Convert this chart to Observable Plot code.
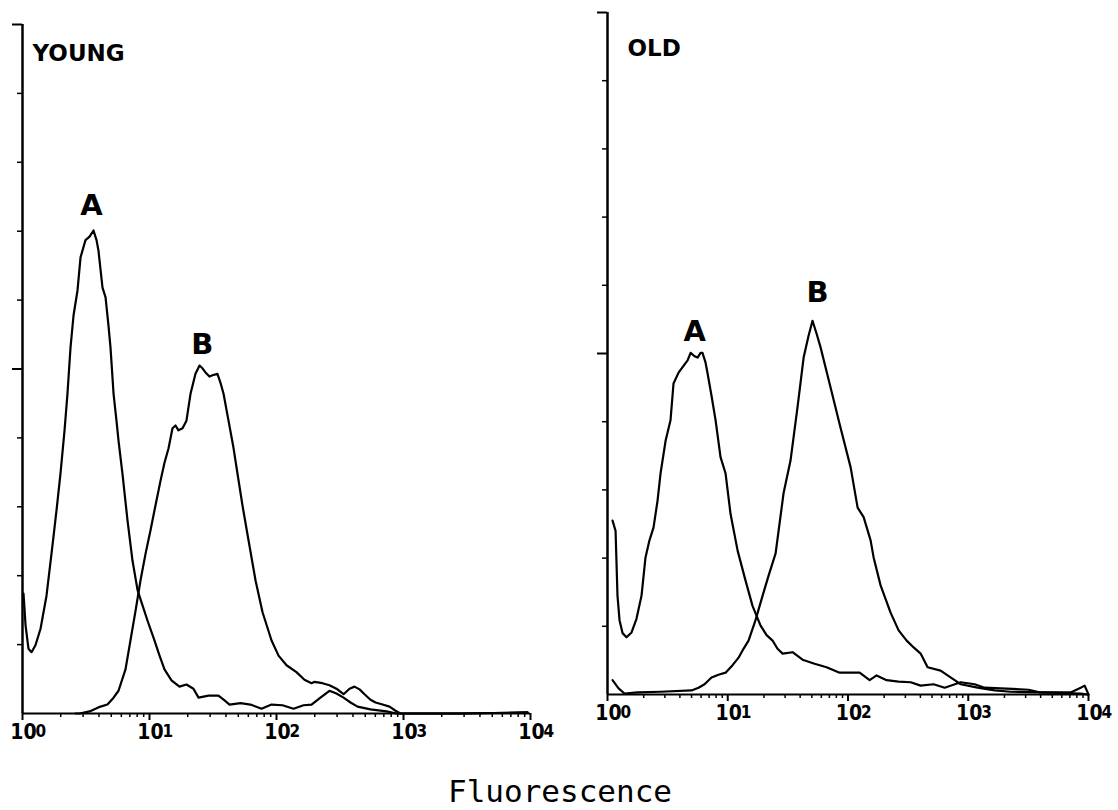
<!DOCTYPE html>
<html>
<head>
<meta charset="utf-8">
<script src="https://cdn.jsdelivr.net/npm/d3@7"></script>
<script src="https://cdn.jsdelivr.net/npm/@observablehq/plot@0.6"></script>
<style>
  html, body { margin: 0; padding: 0; background: #fff; }
  #wrap { position: relative; width: 1118px; height: 810px; background: #fff; overflow: hidden; }
  #left { position: absolute; left: 0; top: 0; }
  #right { position: absolute; left: 580px; top: 0; }
  #xlabel { position: absolute; left: 0; width: 1120px; top: 776px; text-align: center;
    font-family: "DejaVu Sans Mono", monospace; font-size: 31px; line-height: 31px; color: #000; }
</style>
</head>
<body>
<div id="wrap">
  <div id="left"></div>
  <div id="right"></div>
  <div id="xlabel">Fluorescence</div>
</div>
<script>
// ---- Data (x in log10 decades of fluorescence, y = relative cell count, 0..100) ----
const youngA_logF = [0.008,0.024,0.047,0.071,0.102,0.142,0.189,0.236,0.268,0.299,0.331,0.354,0.378,0.402,0.433,0.457,0.496,0.528,0.559,0.583,0.598,0.630,0.654,0.677,0.693,0.717,0.740,0.756,0.787,0.827,0.866,0.906,0.945,0.984,1.039,1.079,1.118,1.173,1.236,1.291,1.346,1.386,1.465,1.543,1.591,1.630,1.717,1.795,1.882,1.961,2.047,2.134,2.213,2.276,2.346,2.417,2.472,2.528,2.583,2.638,2.740,2.866,2.945,3.449,3.976];
const youngA_count = [17.4,12.8,9.4,8.9,9.9,12.3,17.1,24.4,29.5,34.8,41.1,46.4,53.1,57.8,61.4,66.2,68.7,69.2,70.1,68.7,67.2,61.8,60.4,56.3,53.1,46.4,42.5,39.6,34.8,28.0,22.2,17.9,15.7,13.5,10.6,8.4,6.4,4.8,3.9,4.2,3.6,2.3,2.6,2.6,1.9,1.3,1.5,1.3,0.7,1.3,1.2,0.7,1.2,1.3,2.3,3.3,2.9,2.3,1.6,1.0,0.6,0.3,0,0,0.15];

const youngB_logF = [0.417,0.449,0.528,0.614,0.669,0.717,0.756,0.811,0.850,0.890,0.929,0.969,1.008,1.047,1.087,1.118,1.150,1.181,1.205,1.228,1.260,1.291,1.323,1.362,1.394,1.417,1.441,1.472,1.496,1.535,1.559,1.583,1.622,1.661,1.693,1.732,1.780,1.835,1.890,1.961,2.016,2.079,2.157,2.220,2.276,2.299,2.362,2.417,2.472,2.528,2.575,2.614,2.654,2.693,2.740,2.780,2.835,2.890,2.937,2.976,3.449,3.976];
const youngB_count = [0,0,0.3,1.0,1.3,2.3,3.3,6.4,10.6,14.9,19.3,23.2,26.6,30.2,33.8,36.4,38.5,41.4,41.8,41.1,41.4,42.5,46.4,49.3,50.5,50.1,49.5,48.9,49.1,49.3,48.0,46.4,42.5,38.6,34.8,30.2,25.1,19.3,14.7,10.6,8.4,7.0,6.0,4.9,4.4,4.6,4.4,4.1,3.6,2.8,3.6,3.9,3.5,2.8,2.0,1.6,1.3,1.0,0.4,0,0,0.15];

const oldA_logF = [0.042,0.067,0.083,0.100,0.125,0.158,0.200,0.241,0.283,0.316,0.349,0.383,0.416,0.441,0.483,0.524,0.549,0.591,0.632,0.666,0.691,0.724,0.749,0.774,0.790,0.815,0.832,0.865,0.899,0.940,0.982,1.023,1.082,1.148,1.206,1.273,1.323,1.373,1.414,1.456,1.539,1.622,1.722,1.822,1.930,2.097,2.180,2.238,2.321,2.421,2.521,2.604,2.712,2.804,2.937,3.053,3.136,3.270,3.502,3.602,3.935,3.993];
const oldA_count = [25.5,24.0,14.5,10.9,9.0,8.4,9.1,11.1,14.5,20.1,22.6,24.5,28.4,32.4,37.2,40.2,45.6,47.2,48.2,49.0,50.1,49.6,49.4,50.1,50.1,48.7,47.1,43.8,40.2,34.8,32.4,26.5,21.1,16.7,13.0,10.1,8.7,7.9,6.7,6.0,6.2,5.1,4.5,4.0,3.2,3.2,2.1,2.8,2.1,1.9,1.8,1.3,1.5,1.0,1.8,1.5,1.0,0.9,0.7,0.3,0.15,0];

const oldB_logF = [0.042,0.092,0.141,0.250,0.441,0.699,0.757,0.807,0.865,0.923,0.982,1.040,1.090,1.131,1.173,1.231,1.290,1.339,1.398,1.464,1.522,1.580,1.631,1.672,1.705,1.739,1.772,1.855,1.938,2.022,2.080,2.130,2.188,2.213,2.271,2.354,2.421,2.488,2.546,2.604,2.662,2.770,2.887,2.937,3.078,3.220,3.353,3.602,3.852,3.935,3.968,4.0];
const oldB_count = [2.1,0.9,0.15,0.3,0.4,0.6,1.0,1.5,2.5,2.9,3.2,4.3,5.4,6.7,7.9,10.9,14.5,17.4,20.7,29.5,34.3,42.1,49.4,52.6,54.8,52.9,50.9,45.0,39.1,33.3,27.4,26.0,22.6,20.1,16.0,12.0,9.4,7.9,6.9,6.0,4.0,3.5,2.1,1.5,1.0,0.6,0.4,0.3,0.3,1.0,1.3,0];

// peak labels (fluorescence, count)
const youngLabelText = ["A", "B"];
const youngLabelX = [3.49, 26.1];
const youngLabelY = [72.3, 52.2];
const oldLabelText = ["A", "B"];
const oldLabelX = [5.3, 55.8];
const oldLabelY = [51.9, 57.5];

// axis ticks
const xDecadeTicks = [1, 10, 100, 1000, 10000];
const xDecadeExponents = ["0", "1", "2", "3", "4"];
const xMinorMultipliers = [2, 3, 4, 5, 6, 7, 8, 9];
const yMinorTicks = [10, 20, 30, 40, 60, 70, 80, 90];
const yMajorTicks = [50, 100];

// ---- build ----
const toRows = (lf, c) => lf.map((d, i) => ({x: Math.pow(10, d), y: c[i]}));
const xMinorTicks = xDecadeTicks.slice(0, 4).flatMap(d => xMinorMultipliers.map(k => k * d));
const noText = () => "";

function panel({A, B, title, titleDx, titleDy, labText, labX, labY, width, height, mL, mR, mT, mB}) {
  const labels = labText.map((t, i) => ({t, x: labX[i], y: labY[i]}));
  const ticks = xDecadeTicks.map((d, i) => ({d, e: xDecadeExponents[i]}));
  return Plot.plot({
    width, height,
    marginLeft: mL, marginRight: mR, marginTop: mT, marginBottom: mB,
    style: {background: "white", overflow: "visible", fontFamily: "DejaVu Sans, sans-serif", color: "black"},
    x: {type: "log", domain: [1, 10000], axis: null},
    y: {domain: [0, 100], axis: null},
    marks: [
      // axes
      Plot.ruleX([1], {y1: 0, y2: 100, stroke: "black", strokeWidth: 2.5}),
      Plot.ruleY([0], {stroke: "black", strokeWidth: 2}),
      Plot.axisY(yMinorTicks, {anchor: "left", tickSize: 5, tickFormat: noText, label: null, strokeWidth: 1.5}),
      Plot.axisY(yMajorTicks, {anchor: "left", tickSize: 10, tickFormat: noText, label: null, strokeWidth: 2}),
      Plot.axisX(xMinorTicks, {anchor: "bottom", tickSize: 4, tickFormat: noText, label: null, strokeWidth: 1.5}),
      Plot.axisX(xDecadeTicks, {anchor: "bottom", tickSize: 7, tickFormat: noText, label: null, strokeWidth: 2}),
      // tick labels: 10 with exponent
      Plot.text(ticks, {x: "d", text: () => "10", frameAnchor: "bottom", lineAnchor: "bottom",
        dy: 25, dx: 1, fontSize: 21, fontWeight: "bold", fill: "black", textAnchor: "middle",
        fontFamily: "DejaVu Sans Condensed, DejaVu Sans, sans-serif"}),
      Plot.text(ticks, {x: "d", text: "e", frameAnchor: "bottom", lineAnchor: "bottom",
        dy: 23, dx: 13, fontSize: 17, fontWeight: "bold", fill: "black", textAnchor: "start",
        fontFamily: "DejaVu Sans Condensed, DejaVu Sans, sans-serif"}),
      // curves
      Plot.line(A, {x: "x", y: "y", stroke: "black", strokeWidth: 2.2}),
      Plot.line(B, {x: "x", y: "y", stroke: "black", strokeWidth: 2.2}),
      // peak labels
      Plot.text(labels, {x: "x", y: "y", text: "t", lineAnchor: "bottom", fontSize: 29, fontWeight: "bold",
        fill: "black", fontFamily: "DejaVu Sans, sans-serif"}),
      // panel title
      Plot.text([title], {frameAnchor: "top-left", textAnchor: "start", lineAnchor: "bottom",
        dx: titleDx, dy: titleDy, fontSize: 23, fontWeight: "bold", fill: "black",
        fontFamily: "DejaVu Sans, sans-serif"})
    ]
  });
}

document.getElementById("left").append(panel({
  A: toRows(youngA_logF, youngA_count), B: toRows(youngB_logF, youngB_count),
  title: "YOUNG", titleDx: 10, titleDy: 36,
  labText: youngLabelText, labX: youngLabelX, labY: youngLabelY,
  width: 560, height: 760, mL: 22, mR: 30, mT: 24, mB: 47
}));
document.getElementById("right").append(panel({
  A: toRows(oldA_logF, oldA_count), B: toRows(oldB_logF, oldB_count),
  title: "OLD", titleDx: 20, titleDy: 43,
  labText: oldLabelText, labX: oldLabelX, labY: oldLabelY,
  width: 538, height: 760, mL: 27, mR: 30, mT: 12, mB: 66
}));
</script>
</body>
</html>
